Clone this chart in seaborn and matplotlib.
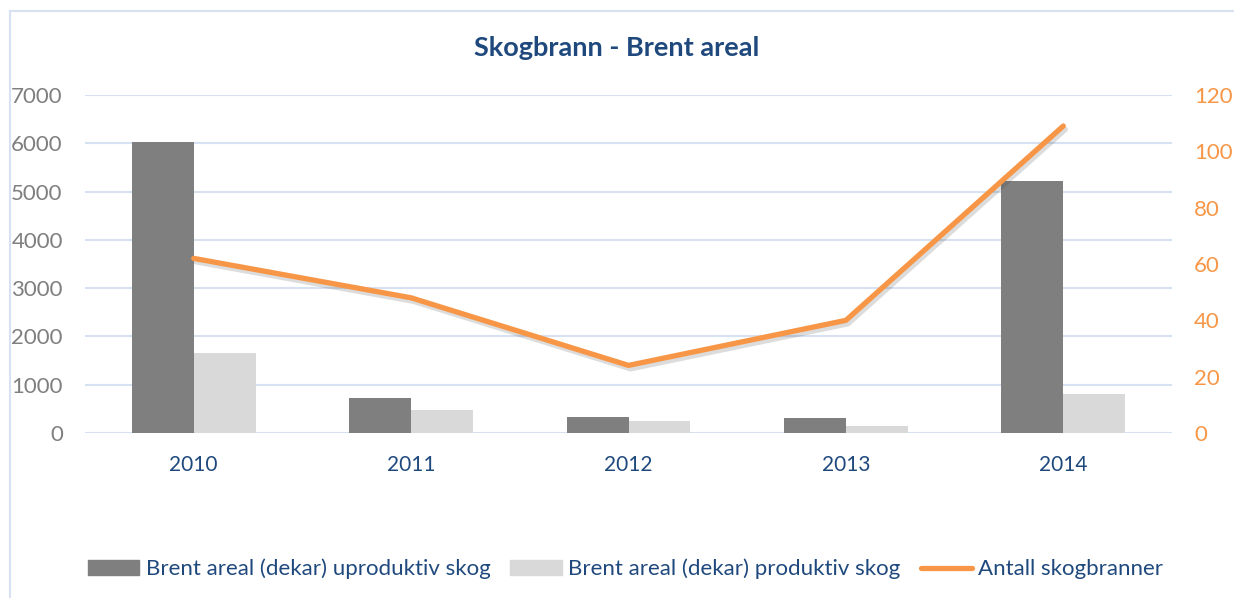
import matplotlib
matplotlib.use("Agg")
import matplotlib.pyplot as plt
import matplotlib.patheffects as pe
from matplotlib.patches import Rectangle
from matplotlib.lines import Line2D
import seaborn as sns
import pandas as pd

# data
years = ["2010", "2011", "2012", "2013", "2014"]
uproduktiv = [6020, 724, 337, 302, 5227]
produktiv = [1655, 468, 240, 151, 807]
antall = [62, 48, 24, 40, 109]

lbl_upr = "Brent areal (dekar) uproduktiv skog"
lbl_pro = "Brent areal (dekar) produktiv skog"
lbl_ant = "Antall skogbranner"

dark = "#7F7F7F"
light = "#D9D9D9"
orange = "#F79646"
navy = "#1F497D"
grid_c = "#D6E1F1"

sns.set_style("white")
plt.rcParams["font.family"] = ["Lato", "DejaVu Sans"]

df = pd.DataFrame({
    "year": years * 2,
    "areal": uproduktiv + produktiv,
    "type": [lbl_upr] * 5 + [lbl_pro] * 5,
})

fig = plt.figure(figsize=(12.34, 5.98), dpi=100)
ax = fig.add_axes([85 / 1234, 165 / 598, (1172 - 85) / 1234, (433 - 95) / 598])

sns.barplot(data=df, x="year", y="areal", hue="type", order=years,
            hue_order=[lbl_upr, lbl_pro], palette=[dark, light],
            width=0.57, saturation=1, ax=ax, legend=False, zorder=3,
            linewidth=0, edgecolor="none")
ax.set_ylim(0, 7000)
ax.set_yticks(range(0, 7001, 1000))
ax.set_xlabel("")
ax.set_ylabel("")
ax.grid(axis="y", color=grid_c, linewidth=1.5, zorder=0)
ax.set_axisbelow(True)
for s in ax.spines.values():
    s.set_visible(False)
ax.tick_params(axis="y", length=0, pad=16, labelsize=16, labelcolor="#7F7F7F")
ax.tick_params(axis="x", length=0, pad=16, labelsize=15, labelcolor=navy)

ax2 = ax.twinx()
sns.pointplot(x=years, y=antall, ax=ax2, color=orange, markers="",
              linewidth=3.8, zorder=5)
line = ax2.lines[0]
line.set_solid_capstyle("round")
line.set_solid_joinstyle("round")
line.set_path_effects([pe.SimpleLineShadow(offset=(1.5, -2.5), alpha=0.18, shadow_color="#404040"),
                       pe.Normal()])
ax2.set_ylim(0, 120)
ax2.set_yticks(range(0, 121, 20))
ax2.set_ylabel("")
for s in ax2.spines.values():
    s.set_visible(False)
ax2.tick_params(axis="y", length=0, pad=16, labelsize=16, labelcolor=orange)
ax2.grid(False)

fig.text(0.5, 1 - 48 / 598, "Skogbrann - Brent areal", ha="center", va="center",
         fontsize=19.5, fontweight="bold", color=navy)

handles = [Rectangle((0, 0), 1, 1, color=dark),
           Rectangle((0, 0), 1, 1, color=light),
           Line2D([], [], color=orange, linewidth=3.8, solid_capstyle="round")]
fig.legend(handles, [lbl_upr, lbl_pro, lbl_ant], loc="center",
           bbox_to_anchor=(0.507, 1 - 569 / 598), ncol=3, frameon=False,
           fontsize=16, labelcolor=navy, handlelength=2.3, handleheight=0.6,
           handletextpad=0.3, columnspacing=0.9)

fig.patches.append(Rectangle((10 / 1234, -0.1), 1.2, 1.1 - 11 / 598,
                             transform=fig.transFigure, fill=False,
                             edgecolor=grid_c, linewidth=1.5, zorder=0))

fig.savefig("out.png", dpi=100)
